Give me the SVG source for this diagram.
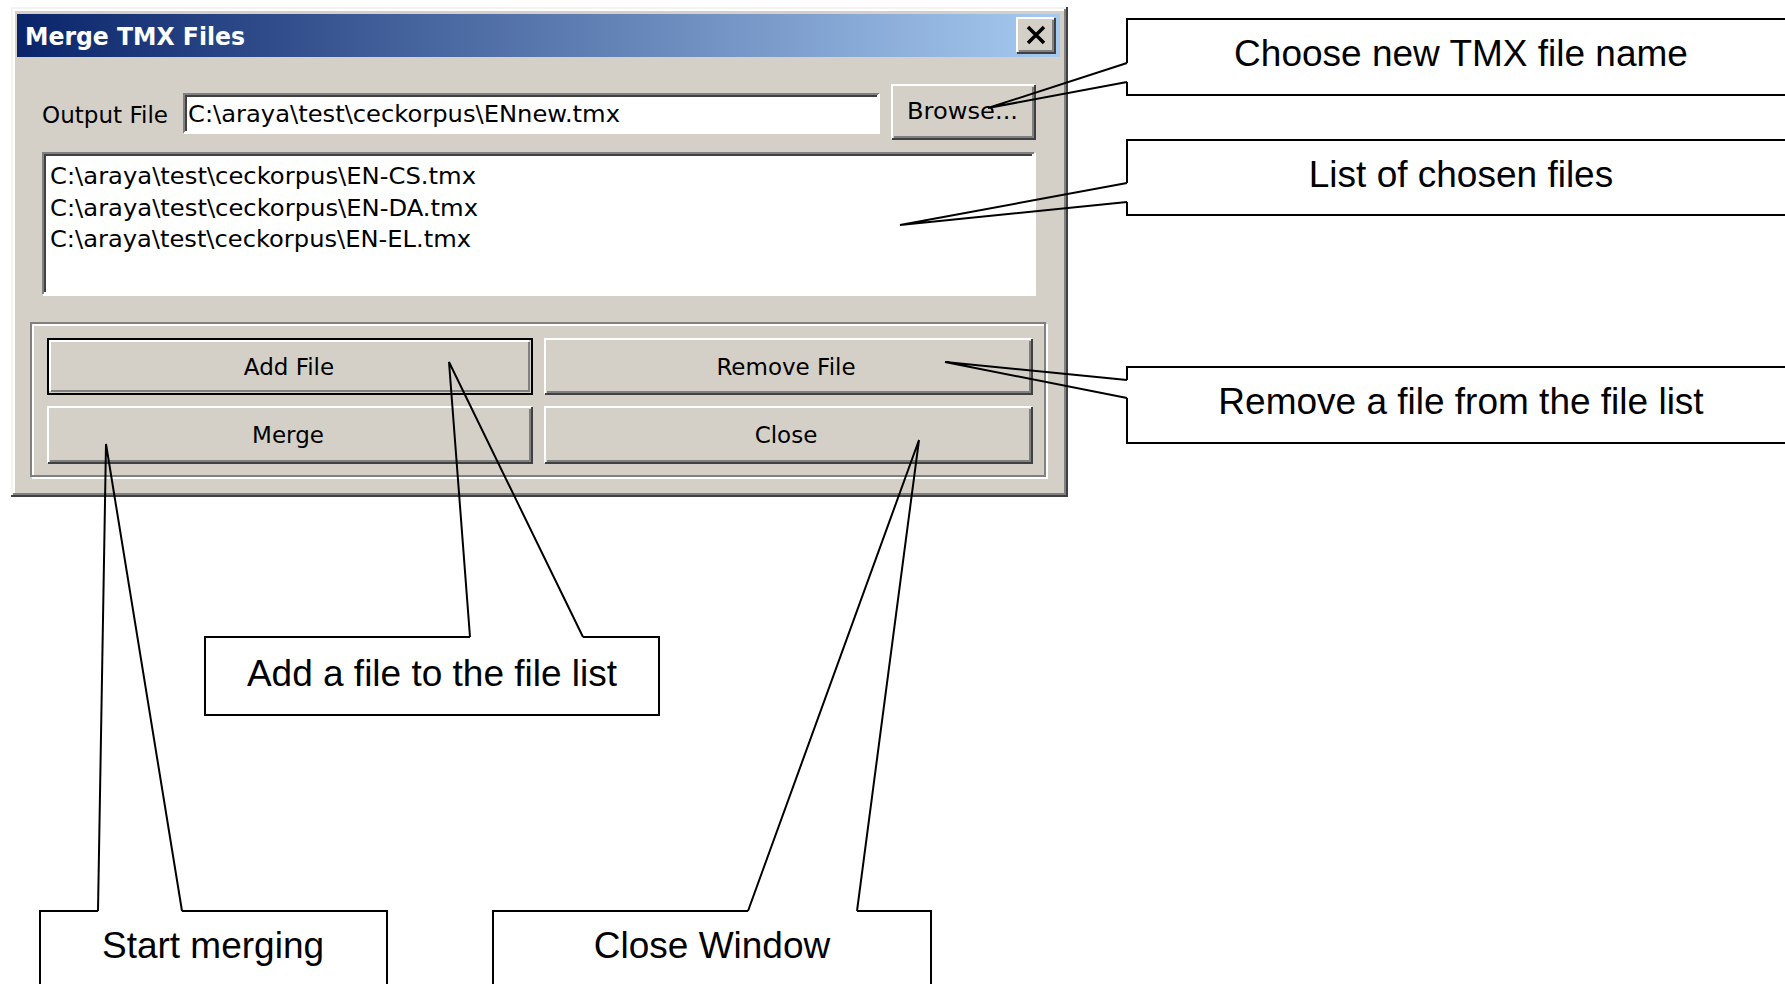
<svg xmlns="http://www.w3.org/2000/svg" width="1785" height="984" viewBox="0 0 1785 984">
<defs>
<linearGradient id="title" x1="0" y1="0" x2="1" y2="0">
<stop offset="0" stop-color="#0a246a"/>
<stop offset="1" stop-color="#a6caf0"/>
</linearGradient>
<style>
.face{fill:#d4d0c8}
.hi{fill:none;stroke:#ffffff;stroke-width:2}
.sh{fill:none;stroke:#808080;stroke-width:2}
.dk{fill:none;stroke:#404040;stroke-width:2}
.ui{font-family:"DejaVu Sans","Liberation Sans",sans-serif;font-size:23px;fill:#000}
.btn{font-family:"DejaVu Sans","Liberation Sans",sans-serif;font-size:23px;fill:#000;text-anchor:middle}
.box{fill:none;stroke:#000;stroke-width:2}
.lbl{font-family:"Liberation Sans",Arial,sans-serif;font-size:37px;fill:#000;text-anchor:middle}
.lead{fill:none;stroke:#000;stroke-width:2;stroke-linejoin:miter}
</style>
</defs>
<rect x="0" y="0" width="1785" height="984" fill="#ffffff"/>

<g id="dialog">
<rect class="face" x="11" y="7" width="1057" height="490"/>
<polyline points="12,496 12,8 1067,8" fill="none" stroke="#f4f3f0" stroke-width="2"/>
<polyline points="14,494 14,10 1064,10" class="hi"/>
<polyline points="11,496 1067,496 1067,7" class="dk"/>
<polyline points="13,494 1065,494 1065,9" class="sh"/>
<g id="titlebar">
<rect x="17" y="14" width="1043" height="43" fill="url(#title)"/>
<text x="25" y="45" font-family="DejaVu Sans, Liberation Sans, sans-serif" font-weight="bold" font-size="24" fill="#ffffff" textLength="220" lengthAdjust="spacingAndGlyphs">Merge TMX Files</text>
</g>
<g id="closebox">
<rect class="face" x="1017" y="18" width="38" height="35"/>
<polyline points="1017,52 1017,18 1054,18" class="hi"/>
<polyline points="1017,53 1055,53 1055,18" class="dk"/>
<polyline points="1019,51 1053,51 1053,20" class="sh"/>
<path d="M1028,27 L1044,43 M1044,27 L1028,43" stroke="#000" stroke-width="3.5" fill="none"/>
</g>
<g id="output-file">
<text class="ui" x="42" y="123" textLength="126" lengthAdjust="spacingAndGlyphs">Output File</text>
<rect x="184" y="94" width="694" height="38" fill="#ffffff"/>
<polyline points="184,133 184,94 879,94" class="sh"/>
<polyline points="186,131 186,96 877,96" class="dk"/>
<polyline points="184,133 879,133 879,94" class="hi"/>
<text class="ui" x="188" y="122" textLength="432" lengthAdjust="spacingAndGlyphs">C:\araya\test\ceckorpus\ENnew.tmx</text>
</g>
<g id="browse-button">
<rect class="face" x="892" y="85" width="143" height="54"/>
<polyline points="892,139 892,85 1035,85" class="hi"/>
<polyline points="892,139 1035,139 1035,85" class="dk"/>
<polyline points="894,137 1033,137 1033,87" class="sh"/>
<text class="ui" x="907" y="119" textLength="111" lengthAdjust="spacingAndGlyphs">Browse...</text>
</g>
<g id="file-list">
<rect x="43" y="153" width="991" height="141" fill="#ffffff"/>
<polyline points="43,294 43,153 1034,153" class="sh"/>
<polyline points="45,292 45,155 1032,155" class="dk"/>
<polyline points="43,295 1035,295 1035,153" class="hi"/>
<text class="ui" x="50" y="184" textLength="426" lengthAdjust="spacingAndGlyphs">C:\araya\test\ceckorpus\EN-CS.tmx</text>
<text class="ui" x="50" y="216" textLength="428" lengthAdjust="spacingAndGlyphs">C:\araya\test\ceckorpus\EN-DA.tmx</text>
<text class="ui" x="50" y="247" textLength="421" lengthAdjust="spacingAndGlyphs">C:\araya\test\ceckorpus\EN-EL.tmx</text>
</g>
<g id="button-group">
<rect x="33" y="325" width="1014" height="153" fill="none" stroke="#ffffff" stroke-width="2"/>
<rect x="31" y="323" width="1014" height="153" fill="none" stroke="#808080" stroke-width="2"/>
</g>
<g id="add-file-button">
<rect class="face" x="48" y="339" width="484" height="55"/>
<rect x="48" y="339" width="484" height="55" fill="none" stroke="#000" stroke-width="2"/>
<polyline points="50,391 50,341 529,341" class="hi"/>
<polyline points="51,391 529,391 529,342" class="sh"/>
<text class="btn" x="289" y="375">Add File</text>
</g>
<g id="remove-file-button">
<rect class="face" x="545" y="339" width="487" height="55"/>
<polyline points="545,394 545,339 1032,339" class="hi"/>
<polyline points="545,394 1032,394 1032,339" class="dk"/>
<polyline points="547,392 1030,392 1030,341" class="sh"/>
<text class="btn" x="786" y="375">Remove File</text>
</g>
<g id="merge-button">
<rect class="face" x="48" y="407" width="484" height="56"/>
<polyline points="48,463 48,407 532,407" class="hi"/>
<polyline points="48,463 532,463 532,407" class="dk"/>
<polyline points="50,461 530,461 530,409" class="sh"/>
<text class="btn" x="288" y="443">Merge</text>
</g>
<g id="close-button">
<rect class="face" x="545" y="407" width="487" height="56"/>
<polyline points="545,463 545,407 1032,407" class="hi"/>
<polyline points="545,463 1032,463 1032,407" class="dk"/>
<polyline points="547,461 1030,461 1030,409" class="sh"/>
<text class="btn" x="786" y="443">Close</text>
</g>
</g>

<g id="callout-choose">
<polyline class="box" points="1127,82 1127,95 1800,95 1800,19 1127,19 1127,63"/>
<text class="lbl" x="1461" y="66">Choose new TMX file name</text>
</g>
<g id="callout-list">
<polyline class="box" points="1127,202 1127,215 1800,215 1800,140 1127,140 1127,183"/>
<text class="lbl" x="1461" y="187">List of chosen files</text>
</g>
<g id="callout-remove">
<polyline class="box" points="1127,398 1127,443 1800,443 1800,367 1127,367 1127,380"/>
<text class="lbl" x="1461" y="414">Remove a file from the file list</text>
</g>
<g id="callout-add">
<polyline class="box" points="583,637 659,637 659,715 205,715 205,637 470,637"/>
<text class="lbl" x="432" y="686">Add a file to the file list</text>
</g>
<g id="callout-merge">
<polyline class="box" points="182,911 387,911 387,1000 40,1000 40,911 98,911"/>
<text class="lbl" x="213" y="958">Start merging</text>
</g>
<g id="callout-close">
<polyline class="box" points="857,911 931,911 931,1000 493,1000 493,911 748,911"/>
<text class="lbl" x="712" y="958">Close Window</text>
</g>

<g id="connectors">
<polyline class="lead" points="1127,63 988,108 1127,82"/>
<polyline class="lead" points="1127,183 900,225 1127,202"/>
<polyline class="lead" points="1127,380 945,362 1127,398"/>
<polyline class="lead" points="470,637 449,362 583,637"/>
<polyline class="lead" points="98,911 106,444 182,911"/>
<polyline class="lead" points="748,911 919,440 857,911"/>
</g>
</svg>
